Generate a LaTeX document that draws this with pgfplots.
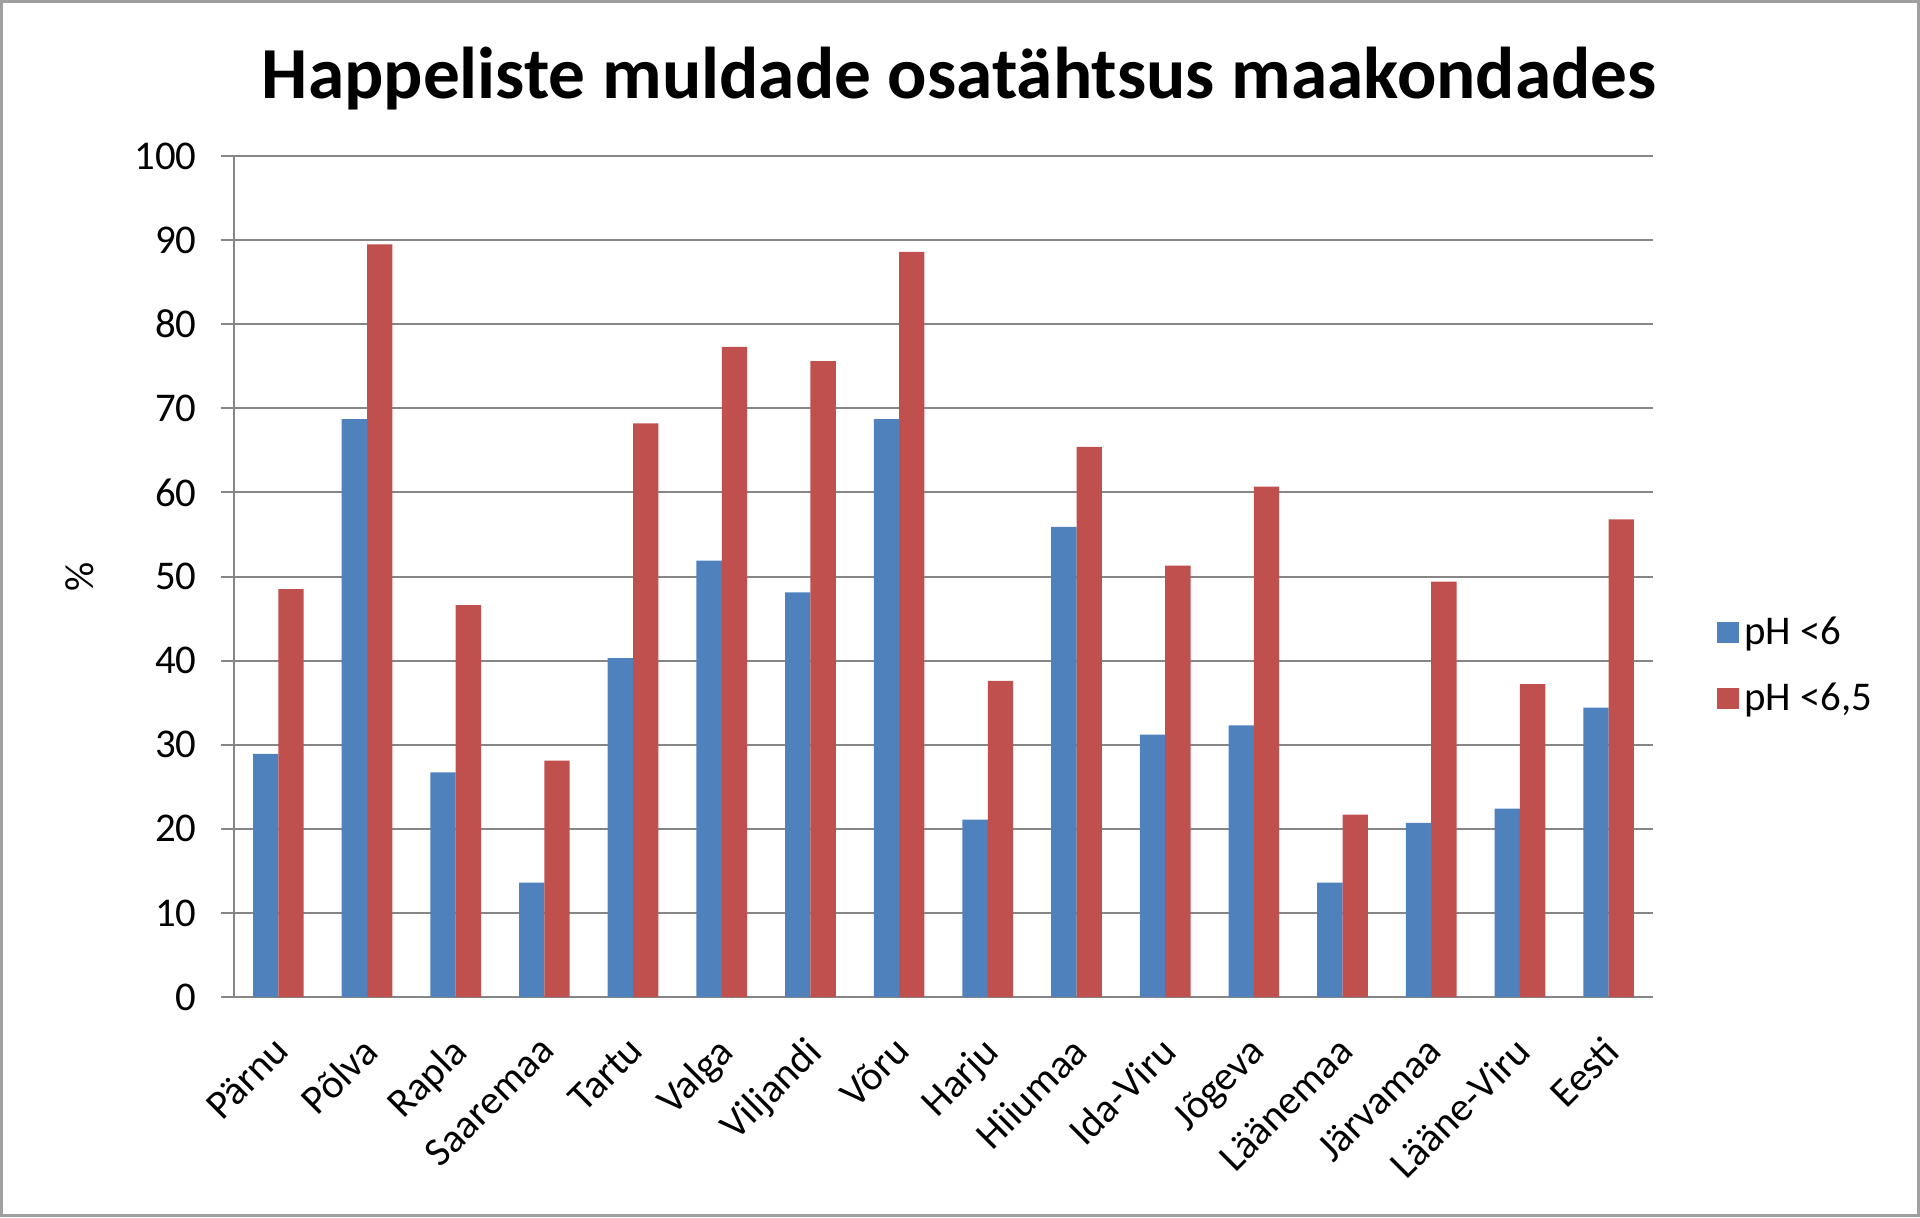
\documentclass[border=0pt]{standalone}
\usepackage{fontspec}
\setmainfont{Carlito}
\usepackage{pgfplots}
\pgfplotsset{compat=1.18}
\definecolor{xlblue}{HTML}{4F81BD}
\definecolor{xlred}{HTML}{C0504D}
\definecolor{gridgray}{HTML}{868686}

\begin{document}
\begin{tikzpicture}
\useasboundingbox (0,0) rectangle (720pt,456.4pt);
\draw[gray!75, line width=1.2pt] (0.6pt,0.6pt) rectangle (719.4pt,455.8pt);
\begin{axis}[
    at={(87.75pt,82.5pt)}, anchor=south west,
    scale only axis, width=532.1pt, height=315.4pt,
    ybar=0pt, bar width=9.5pt,
    xmin=-0.5, xmax=15.5, ymin=0, ymax=100,
    enlargelimits=false,
    xtick={0,...,15},
    xticklabels={Pärnu, Põlva, Rapla, Saaremaa, Tartu, Valga, Viljandi, Võru,
                 Harju, Hiiumaa, Ida-Viru, Jõgeva, Läänemaa, Järvamaa, Lääne-Viru, Eesti},
    ytick={0,10,...,100},
    axis x line*=bottom, axis y line*=left,
    axis line style={-, gridgray, line width=0.75pt},
    tick align=outside,
    xtick style={draw=none},
    ytick style={gridgray, line width=0.75pt},
    major tick length=5pt,
    ymajorgrids=true,
    grid style={gridgray, line width=0.75pt},
    /pgf/number format/assume math mode=true,
    tick label style={font=\fontsize{15.3}{18}\selectfont},
    yticklabel style={xshift=-5.5pt},
    xticklabel style={xshift=-2.5pt, yshift=-4pt, rotate=45, anchor=north east},
    title={Happeliste muldade osatähtsus maakondades},
    title style={at={(axis description cs:0.511,1.073)}, anchor=center,
                 font=\fontsize{27.5}{32}\selectfont\bfseries},
    ylabel={\%},
    ylabel style={at={(axis description cs:-0.1085,0.5)}, anchor=center,
                  font=\fontsize{15.3}{18}\selectfont},
    legend style={at={(axis description cs:1.045,0.394)}, anchor=west,
                  draw=none, fill=none, inner sep=0pt, row sep=9pt,
                  font=\fontsize{15.3}{18}\selectfont},
    legend cell align=left,
    legend image code/.code={\draw[#1, draw=none] (0pt,-4pt) rectangle (8pt,4pt);},
]
\addplot[fill=xlblue, draw=none] coordinates {
    (0,28.9) (1,68.7) (2,26.7) (3,13.6) (4,40.3) (5,51.9) (6,48.1) (7,68.7)
    (8,21.1) (9,55.9) (10,31.2) (11,32.3) (12,13.6) (13,20.7) (14,22.4) (15,34.4)
};
\addplot[fill=xlred, draw=none] coordinates {
    (0,48.5) (1,89.5) (2,46.6) (3,28.1) (4,68.2) (5,77.3) (6,75.6) (7,88.6)
    (8,37.6) (9,65.4) (10,51.3) (11,60.7) (12,21.7) (13,49.4) (14,37.2) (15,56.8)
};
\legend{pH <6, {pH <6{,}5}}
\end{axis}
\end{tikzpicture}
\end{document}
